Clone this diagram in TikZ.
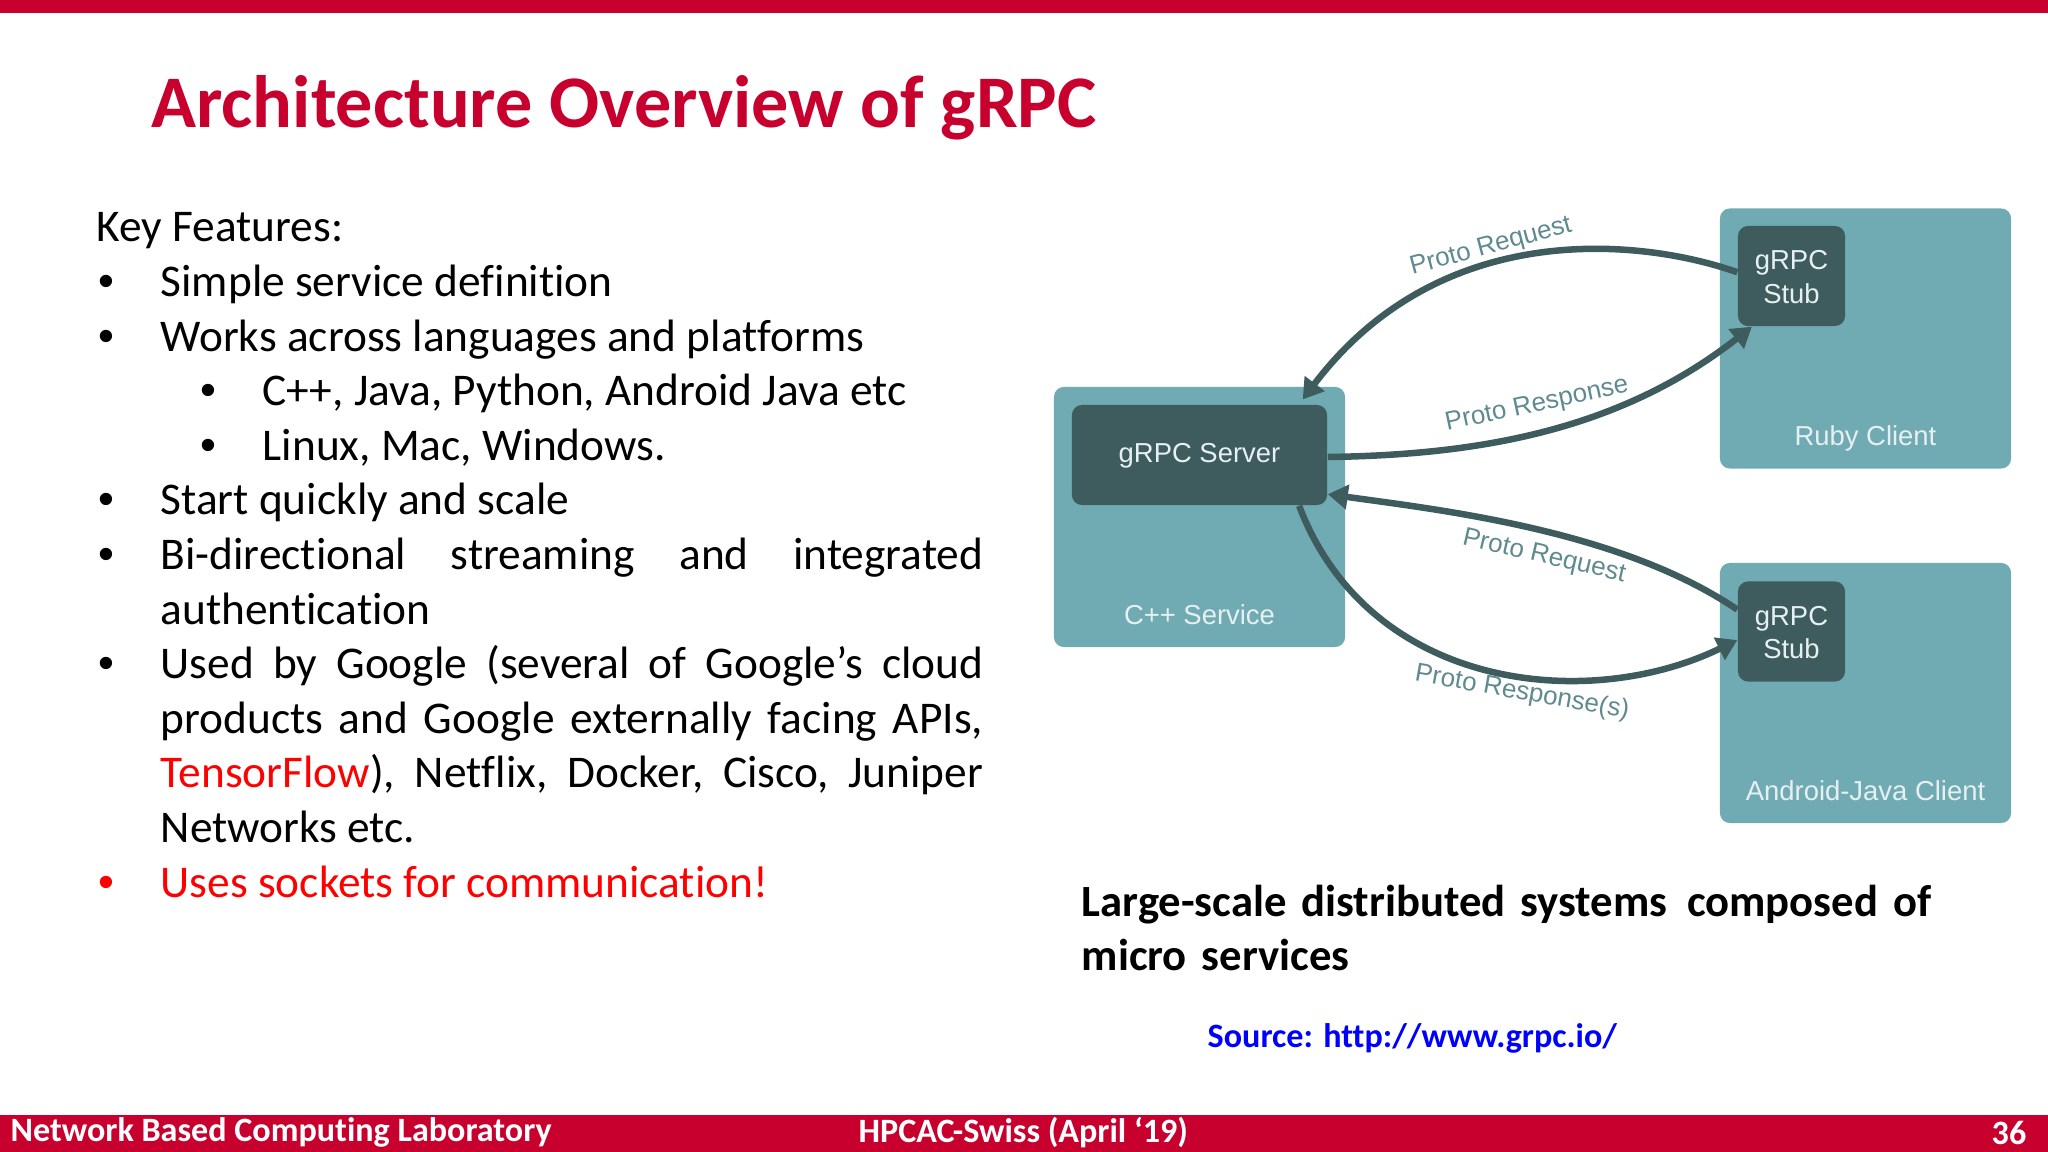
\documentclass[tikz,border=0pt]{standalone}
\usepackage{fontspec,enumitem}
\setmainfont{Carlito}[Ligatures={TeX,NoCommon}]
\newfontfamily\diagfont{Liberation Sans}
\usetikzlibrary{arrows.meta}
\definecolor{barred}{HTML}{C8002D}
\definecolor{boxteal}{HTML}{70ABB3}
\definecolor{boxdark}{HTML}{3E5C5E}
\definecolor{labelteal}{HTML}{5F8A90}
\definecolor{boxtext}{HTML}{E6F0F1}
\tikzset{
	svcbox/.style={fill=boxteal,rounded corners=0.1cm,minimum width=2.91cm,minimum height=2.6cm,inner sep=0pt},
	rpcbox/.style={fill=boxdark,rounded corners=0.1cm,inner sep=0pt},
	boxlabel/.style={text=boxtext,font=\diagfont\fontsize{7.8pt}{9.6pt}\selectfont,align=center,inner sep=0pt},
	flowlabel/.style={text=labelteal,font=\diagfont\fontsize{7.4pt}{9pt}\selectfont,inner sep=0pt},
	flow/.style={draw=boxdark,line width=0.065cm,-{Triangle[length=0.2cm,width=0.24cm]}},
	barlabel/.style={text=white,font=\bfseries\fontsize{9.7pt}{11pt}\selectfont,inner sep=0pt}
}
\begin{document}
\begin{tikzpicture}[x=0.01cm,y=-0.01cm]
	\useasboundingbox (0,0) rectangle (2048,1152);
	\fill[barred] (0,0) rectangle (2048,13);
	\fill[barred] (0,1115) rectangle (2048,1152);
	\node[text=barred,font=\bfseries\fontsize{21.1pt}{25pt}\selectfont,anchor=west,inner sep=0pt] (title) at (151,108) {Architecture Overview of gRPC};

	\node[anchor=north west,inner sep=0pt,text width=8.86cm,align=justify,font=\fontsize{12.9pt}{15.53pt}\selectfont] (features) at (96,212) {%
		Key Features:
		\begin{itemize}[left=0.02cm .. 0.64cm,itemsep=0pt,parsep=0pt,topsep=0pt,partopsep=0pt,label={\diagfont\textbullet}]
			\item Simple service definition
			\item Works across languages and platforms
			\begin{itemize}[left=0.4cm .. 1.02cm,itemsep=0pt,parsep=0pt,topsep=0pt,partopsep=0pt,label={\diagfont\textbullet}]
				\item C++, Java, Python, Android Java etc
				\item Linux, Mac, Windows.
			\end{itemize}
			\item Start quickly and scale
			\item Bi-directional streaming and integrated\linebreak authentication
			\item Used by Google (several of Google's cloud\linebreak products and Google externally facing APIs,\linebreak \textcolor{red}{TensorFlow}), Netflix, Docker, Cisco, Juniper\linebreak Networks etc.
			\item[\textcolor{red}{\diagfont\textbullet}] \textcolor{red}{Uses sockets for communication!}
		\end{itemize}};

	\node[svcbox] (cppbox) at (1199.5,517) {};
	\node[svcbox] (rubybox) at (1865.5,338.5) {};
	\node[svcbox] (javabox) at (1865.5,693) {};
	\node[rpcbox,minimum width=2.55cm,minimum height=1cm] (server) at (1199.5,455) {};
	\node[rpcbox,minimum width=1.07cm,minimum height=1cm] (stubruby) at (1791.5,276) {};
	\node[rpcbox,minimum width=1.07cm,minimum height=1cm] (stubjava) at (1791.5,631.5) {};
	\node[boxlabel] (servertext) at (1199.5,456) {gRPC Server};
	\node[boxlabel] (rubystubtext) at (1791.5,277) {gRPC\\Stub};
	\node[boxlabel] (javastubtext) at (1791.5,632.5) {gRPC\\Stub};
	\node[boxlabel] (cpptext) at (1199.5,615) {C++ Service};
	\node[boxlabel] (rubytext) at (1865.5,438) {Ruby Client};
	\node[boxlabel] (javatext) at (1865.5,791) {Android-Java Client};

	\draw[flow,shorten >=0.06cm] (stubruby.176) .. controls (1640,238) and (1440,218) .. (server.27);
	\draw[flow] (server.east) ++(0,2) coordinate (cppout) (cppout) .. controls (1480,455) and (1620,430) .. (stubruby.-128);
	\draw[flow] (stubjava.158) .. controls (1620,530) and (1440,510) .. (server.-17);
	\draw[flow] (server.-27) .. controls (1370,692) and (1590,712) .. (stubjava.189);

	\node[flowlabel,rotate=15] (reqruby) at (1491,247) {Proto Request};
	\node[flowlabel,rotate=12] (resruby) at (1537,405) {Proto Response};
	\node[flowlabel,rotate=-13] (reqjava) at (1544,557) {Proto Request};
	\node[flowlabel,rotate=-10] (resjava) at (1522,693) {Proto Response(s)};

	\node[anchor=north west,inner sep=0pt,text width=9.5cm,font=\bfseries\fontsize{12.7pt}{15.53pt}\selectfont] (largetext) at (1081,884) {Large-scale distributed systems\hspace{0.05cm} composed of\\micro services};
	\node[text=blue,font=\bfseries\fontsize{9.7pt}{12pt}\selectfont,anchor=west,inner sep=0pt] (source) at (1207,1038) {Source: http://www.grpc.io/};

	\node[barlabel,anchor=west] (barleft) at (10,1132) {Network Based Computing Laboratory};
	\node[barlabel,anchor=west] (barmid) at (858,1133) {HPCAC-Swiss (April `19)};
	\node[barlabel,anchor=east] (barright) at (2027,1133) {36};
\end{tikzpicture}
\end{document}
